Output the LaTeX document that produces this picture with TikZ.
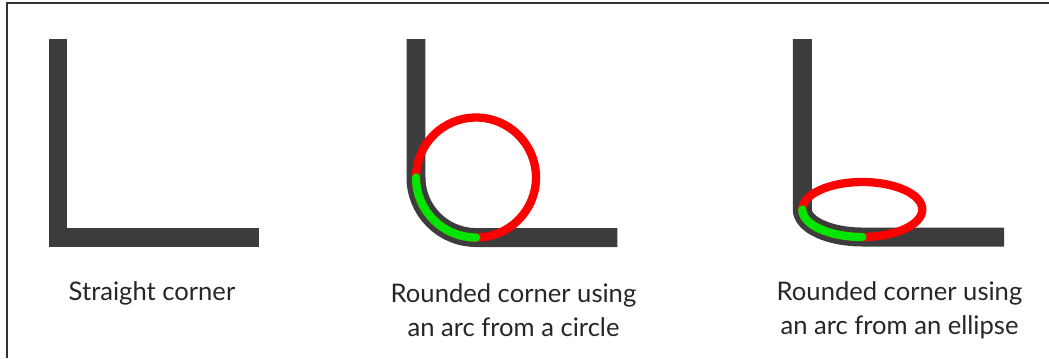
\documentclass[tikz,border=0pt]{standalone}
\usepackage{fontspec}
\setmainfont{Lato}
\definecolor{CornerGray}{HTML}{3C3C3C}
\definecolor{ArcRed}{HTML}{FF0000}
\definecolor{ArcGreen}{HTML}{00E600}
\usetikzlibrary{positioning}

\begin{document}
\begin{tikzpicture}[x=0.025cm,y=-0.025cm,
  bar/.style={draw=CornerGray,line width=13.5pt},
  guide/.style={draw=ArcRed,line width=5.9pt},
  part/.style={draw=ArcGreen,line width=5.9pt,line cap=round},
  caption/.style={align=center,font=\fontsize{18.2}{24}\selectfont,text=black!85}
]
  \useasboundingbox (0,0) rectangle (1049,358);
  \draw[black!80,line width=0.8pt] (1049,3) -- (7,3) -- (7,358);

  % straight corner
  \draw[bar] (58,38.7) -- (58,237.5) -- (259,237.5);
  \node[caption] (straight) at (152,293) {Straight corner};

  % corner from a circle
  \coordinate (cc) at (476,177.5);
  \draw[bar] (416,39) -- (416,177.5) arc[start angle=180,end angle=90,radius=60] -- (617.3,237.5);
  \draw[guide] (cc) circle[radius=60];
  \draw[part] (416,177.5) arc[start angle=180,end angle=90,radius=60];
  \node[caption] (circ) at (513.5,310) {Rounded corner using\\an arc from a circle};

  % corner from an ellipse
  \coordinate (ec) at (862.3,209.5);
  \draw[bar] (802.3,39) -- (802.3,209.5) arc[start angle=180,end angle=90,x radius=60,y radius=27.5] -- (1004,237);
  \draw[guide] (ec) ellipse[x radius=60,y radius=27.5];
  \draw[part] (802.3,209.5) arc[start angle=180,end angle=90,x radius=60,y radius=27.5];
  \node[caption] (ell) at (899.5,310) {Rounded corner using\\an arc from an ellipse};
\end{tikzpicture}
\end{document}
